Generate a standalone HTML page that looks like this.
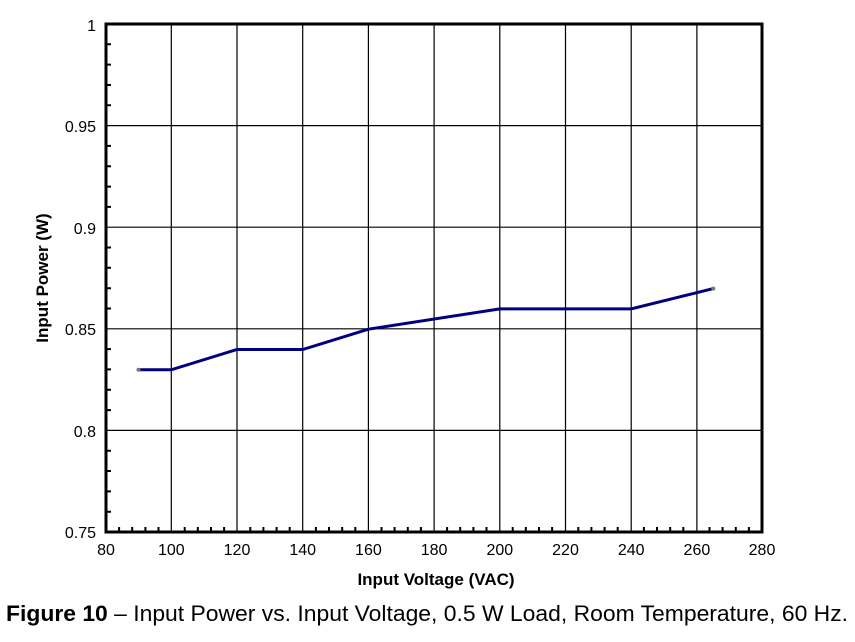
<!DOCTYPE html><html><head><style>body{margin:0;background:#fff}svg{display:block}text{font-family:"Liberation Sans",Arial,sans-serif}</style></head><body>
<svg width="855" height="642" xmlns="http://www.w3.org/2000/svg">
<g stroke="#000" stroke-width="1.2">
<line x1="171.3" y1="24" x2="171.3" y2="532"/><line x1="237" y1="24" x2="237" y2="532"/><line x1="302.7" y1="24" x2="302.7" y2="532"/><line x1="368.4" y1="24" x2="368.4" y2="532"/><line x1="434.1" y1="24" x2="434.1" y2="532"/><line x1="499.8" y1="24" x2="499.8" y2="532"/><line x1="565.5" y1="24" x2="565.5" y2="532"/><line x1="631.2" y1="24" x2="631.2" y2="532"/><line x1="696.9" y1="24" x2="696.9" y2="532"/>
<line x1="106" y1="125.6" x2="762" y2="125.6"/><line x1="106" y1="227.2" x2="762" y2="227.2"/><line x1="106" y1="328.8" x2="762" y2="328.8"/><line x1="106" y1="430.4" x2="762" y2="430.4"/>
</g>
<path stroke="#000" stroke-width="2" fill="none" d="M119.1 532v-5M132.2 532v-5M145.4 532v-5M158.5 532v-5M184.7 532v-5M197.8 532v-5M211 532v-5M224.1 532v-5M250.3 532v-5M263.4 532v-5M276.6 532v-5M289.7 532v-5M315.9 532v-5M329 532v-5M342.2 532v-5M355.3 532v-5M381.5 532v-5M394.6 532v-5M407.8 532v-5M420.9 532v-5M447.1 532v-5M460.2 532v-5M473.4 532v-5M486.5 532v-5M512.7 532v-5M525.8 532v-5M539 532v-5M552.1 532v-5M578.3 532v-5M591.4 532v-5M604.6 532v-5M617.7 532v-5M643.9 532v-5M657 532v-5M670.2 532v-5M683.3 532v-5M709.5 532v-5M722.6 532v-5M735.8 532v-5M748.9 532v-5M106 44.3h5M106 64.6h5M106 85h5M106 105.3h5M106 145.9h5M106 166.2h5M106 186.6h5M106 206.9h5M106 247.5h5M106 267.8h5M106 288.2h5M106 308.5h5M106 349.1h5M106 369.4h5M106 389.8h5M106 410.1h5M106 450.7h5M106 471h5M106 491.4h5M106 511.7h5"/>
<rect x="106" y="24" width="656" height="508" fill="none" stroke="#000" stroke-width="3"/>
<polyline fill="none" stroke="#00007f" stroke-width="3" points="138.5,369.8 171.3,369.8 237,349.5 302.7,349.5 368.4,329.2 499.8,308.9 631.2,308.9 713.3,288.6"/>
<circle cx="138.5" cy="369.8" r="2" fill="#777"/><circle cx="713.3" cy="288.6" r="2" fill="#777"/>
<g font-size="16" fill="#000" text-anchor="end">
<text x="96" y="31">1</text><text x="96" y="132">0.95</text><text x="96" y="234">0.9</text><text x="96" y="335">0.85</text><text x="96" y="437">0.8</text><text x="96" y="538">0.75</text></g>
<g font-size="16" fill="#000" text-anchor="middle">
<text x="106" y="555">80</text><text x="171.3" y="555">100</text><text x="237" y="555">120</text><text x="302.7" y="555">140</text><text x="368.4" y="555">160</text><text x="434.1" y="555">180</text><text x="499.8" y="555">200</text><text x="565.5" y="555">220</text><text x="631.2" y="555">240</text><text x="696.9" y="555">260</text><text x="762" y="555">280</text></g>
<text x="436" y="585" font-size="17" font-weight="bold" text-anchor="middle">Input Voltage (VAC)</text>
<text transform="translate(48,278) rotate(-90)" font-size="17" font-weight="bold" text-anchor="middle">Input Power (W)</text>
<text x="6" y="621" font-size="22.5" textLength="842" lengthAdjust="spacingAndGlyphs"><tspan font-weight="bold">Figure 10</tspan> – Input Power vs. Input Voltage, 0.5 W Load, Room Temperature, 60 Hz.</text>
</svg></body></html>
